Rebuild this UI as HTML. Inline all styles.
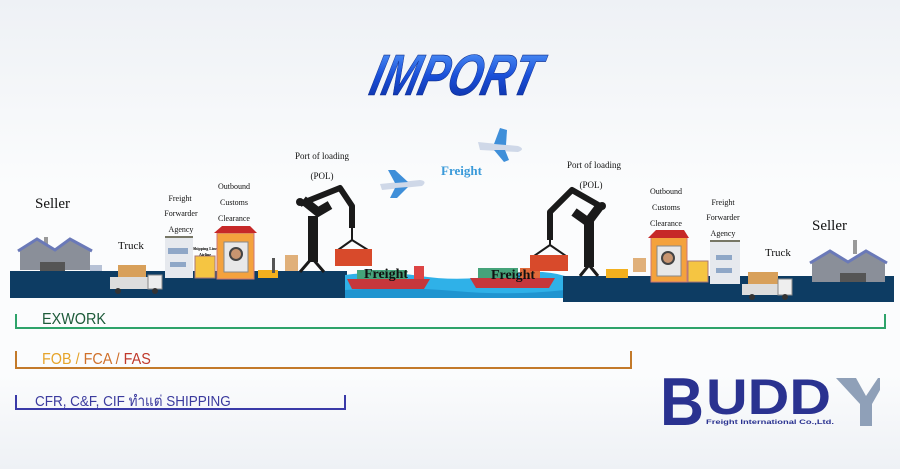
<!DOCTYPE html>
<html><head><meta charset="utf-8"><style>
html,body{margin:0;padding:0;width:900px;height:469px;overflow:hidden}
body{background:linear-gradient(#eef1f5,#fbfcfd 40%,#fbfcfd 80%,#eef1f5)}
svg{display:block}
.s{font-family:"Liberation Serif",serif}
</style></head><body>
<svg width="900" height="469" viewBox="0 0 900 469" xmlns="http://www.w3.org/2000/svg">
<defs>
<linearGradient id="ig" x1="0" y1="0" x2="0" y2="1"><stop offset="0" stop-color="#5aa0ff"/><stop offset="0.5" stop-color="#1a4fd8"/><stop offset="1" stop-color="#0a2a9a"/></linearGradient>
</defs>
<!-- IMPORT -->
<text x="453" y="95" text-anchor="middle" font-family="Liberation Sans,sans-serif" font-weight="bold" font-style="italic" font-size="58" fill="url(#ig)" stroke="#0b2a8a" stroke-width="0.6" textLength="168" lengthAdjust="spacingAndGlyphs" transform="skewX(-14) translate(22,0)">IMPORT</text>

<!-- ground -->
<rect x="10" y="271" width="337" height="27" fill="#0d3c63"/>
<path d="M345 275 Q380 270 420 276 T500 275 T565 276 L565 298 L345 298 Z" fill="#2fb1e8"/>
<path d="M345 290 Q400 286 455 291 T565 290 L565 298 L345 298Z" fill="#1f94d0"/>
<rect x="563" y="276" width="331" height="26" fill="#0d3c63"/>

<!-- left factory -->
<rect x="44" y="237" width="4" height="10" fill="#999"/>
<path d="M20 270 L20 250 L37 240 L55 250 L70 240 L90 250 L90 270Z" fill="#8a8f99"/>
<path d="M18 251 L37 239 L55 250 L70 239 L92 251" stroke="#6a79b8" stroke-width="3" fill="none"/>
<rect x="40" y="262" width="25" height="9" fill="#555"/>
<rect x="90" y="265" width="12" height="6" fill="#b7c2d6"/>
<!-- left truck -->
<rect x="110" y="277" width="40" height="12" fill="#ddd"/><rect x="118" y="265" width="28" height="12" fill="#d8a05a"/>
<rect x="148" y="275" width="14" height="14" fill="#eee" stroke="#888"/>
<circle cx="118" cy="291" r="3" fill="#333"/><circle cx="155" cy="291" r="3" fill="#333"/>
<!-- FFA building -->
<rect x="165" y="238" width="28" height="40" fill="#e6e9ee"/><rect x="168" y="248" width="20" height="6" fill="#8fa7c7"/><rect x="170" y="262" width="16" height="5" fill="#8fa7c7"/>
<rect x="165" y="236" width="28" height="2" fill="#776"/>
<rect x="195" y="256" width="20" height="22" fill="#f5c542" stroke="#a77" stroke-width="1"/>
<text x="205" y="250" font-size="4" text-anchor="middle" class="s" font-weight="bold">Shipping Line</text>
<text x="205" y="256" font-size="4" text-anchor="middle" class="s" font-weight="bold">Airline</text>
<!-- customs -->
<rect x="217" y="233" width="37" height="46" fill="#f4a23d" stroke="#c77" stroke-width="1"/>
<path d="M214 233 L222 226 L250 226 L257 233Z" fill="#c62828"/>
<rect x="224" y="242" width="24" height="30" fill="#e8e8e8" stroke="#888"/>
<circle cx="236" cy="254" r="6" fill="#c89570" stroke="#444" stroke-width="2"/>
<!-- forklift+boxes -->
<rect x="258" y="270" width="20" height="8" fill="#f2b01e"/><rect x="272" y="258" width="3" height="15" fill="#555"/>
<rect x="285" y="255" width="13" height="16" fill="#e0b07a"/>
<!-- left crane -->
<path d="M300 272 L312 258 L324 272" stroke="#1a1a1a" stroke-width="3" fill="none"/>
<rect x="308" y="216" width="10" height="46" fill="#1a1a1a"/>
<path d="M300 204 L340 188 L352 206 L352 228" stroke="#1a1a1a" stroke-width="6" fill="none" stroke-linejoin="round"/>
<path d="M303 200 L318 212 L330 205" stroke="#1a1a1a" stroke-width="9" fill="none"/>
<circle cx="300" cy="202" r="4" fill="#1a1a1a"/>
<path d="M352 228 L352 240 M352 240 L338 250 M352 240 L368 250" stroke="#1a1a1a" stroke-width="2" fill="none"/>
<rect x="335" y="249" width="37" height="17" fill="#d84a2b"/>
<!-- left ship -->
<path d="M347 279 L430 279 L424 289 L352 289Z" fill="#c6373c"/>
<rect x="357" y="270" width="50" height="9" fill="#45a37a"/><rect x="414" y="266" width="10" height="13" fill="#d44"/>
<text x="386" y="278" text-anchor="middle" class="s" font-weight="bold" font-size="14" fill="#111">Freight</text>
<!-- right ship -->
<path d="M470 278 L555 278 L549 288 L476 288Z" fill="#c6373c"/>
<rect x="478" y="268" width="40" height="10" fill="#45a37a"/><rect x="520" y="268" width="20" height="10" fill="#e06a3a"/>
<text x="513" y="279" text-anchor="middle" class="s" font-weight="bold" font-size="14" fill="#111">Freight</text>
<!-- right crane -->
<path d="M580 276 L589 265 L598 276" stroke="#1a1a1a" stroke-width="3" fill="none"/>
<rect x="584" y="220" width="10" height="47" fill="#1a1a1a"/>
<path d="M600 206 L572 190 L550 212 L550 240" stroke="#1a1a1a" stroke-width="6" fill="none" stroke-linejoin="round"/>
<path d="M600 206 L588 222 L574 212" stroke="#1a1a1a" stroke-width="9" fill="none"/>
<circle cx="602" cy="206" r="4" fill="#1a1a1a"/>
<path d="M550 240 L550 245 M550 245 L534 256 M550 245 L566 256" stroke="#1a1a1a" stroke-width="2" fill="none"/>
<rect x="530" y="255" width="38" height="16" fill="#d84a2b"/>
<!-- right forklift/customs -->
<rect x="606" y="269" width="22" height="9" fill="#f2b01e"/><rect x="633" y="258" width="13" height="14" fill="#e0b07a"/>
<rect x="651" y="237" width="36" height="45" fill="#f4a23d" stroke="#c77"/>
<path d="M648 238 L656 230 L684 230 L689 238Z" fill="#c62828"/>
<rect x="657" y="246" width="24" height="30" fill="#e8e8e8" stroke="#888"/>
<circle cx="668" cy="258" r="6" fill="#c89570" stroke="#444" stroke-width="2"/>
<rect x="688" y="261" width="20" height="21" fill="#f5c542" stroke="#a77"/>
<rect x="710" y="242" width="30" height="42" fill="#e6e9ee"/><rect x="710" y="240" width="30" height="2" fill="#776"/>
<rect x="716" y="255" width="16" height="5" fill="#8fa7c7"/><rect x="716" y="268" width="16" height="5" fill="#8fa7c7"/>
<!-- right truck -->
<rect x="742" y="284" width="36" height="11" fill="#ddd"/><rect x="748" y="272" width="30" height="12" fill="#d8a05a"/>
<rect x="778" y="279" width="14" height="16" fill="#eee" stroke="#888"/>
<circle cx="752" cy="297" r="3" fill="#333"/><circle cx="785" cy="297" r="3" fill="#333"/>
<!-- right factory -->
<rect x="853" y="240" width="4" height="14" fill="#999"/>
<path d="M812 282 L812 262 L830 252 L848 262 L866 252 L885 262 L885 282Z" fill="#8a8f99"/>
<path d="M810 263 L830 251 L848 262 L866 251 L887 263" stroke="#6a79b8" stroke-width="3" fill="none"/>
<rect x="840" y="273" width="26" height="9" fill="#555"/>
<!-- planes -->
<g fill="#3f8fd9"><path d="M380 184 L420 180 Q428 181 422 186 L382 190Z" fill="#cfd8e8"/><path d="M395 183 L388 170 L395 170 L408 182Z"/><path d="M395 188 L390 198 L397 198 L408 187Z"/></g>
<g fill="#3f8fd9"><path d="M478 142 L518 146 Q526 149 518 152 L480 150Z" fill="#cfd8e8"/><path d="M494 144 L500 128 L507 130 L506 145Z"/><path d="M494 150 L504 162 L509 160 L505 150Z"/></g>

<!-- labels -->
<g class="s" fill="#111">
<text x="35" y="208" font-size="15">Seller</text>
<text x="118" y="249" font-size="11">Truck</text>
<g font-size="8" text-anchor="middle"><text x="180" y="201">Freight</text><text x="181" y="216">Forwarder</text><text x="181" y="232">Agency</text>
<text x="234" y="189">Outbound</text><text x="234" y="205">Customs</text><text x="234" y="221">Clearance</text>
<text x="666" y="194">Outbound</text><text x="666" y="210">Customs</text><text x="666" y="226">Clearance</text>
<text x="723" y="205">Freight</text><text x="723" y="220">Forwarder</text><text x="723" y="236">Agency</text></g>
<g font-size="9" text-anchor="middle"><text x="322" y="159">Port of loading</text><text x="322" y="179">(POL)</text>
<text x="594" y="168">Port of loading</text><text x="591" y="188">(POL)</text></g>
<text x="765" y="256" font-size="11">Truck</text>
<text x="812" y="230" font-size="15">Seller</text>
</g>
<text x="441" y="175" class="s" font-size="13" font-weight="bold" fill="#3a9ad9">Freight</text>

<!-- bars -->
<path d="M16 314 V328 H885 V314" stroke="#2ea36a" stroke-width="2" fill="none"/>
<text x="42" y="324" font-family="Liberation Sans,sans-serif" font-size="16" fill="#1e5b3a" transform="translate(42 0) scale(0.9 1) translate(-42 0)">EXWORK</text>
<path d="M16 351 V368 H631 V351" stroke="#c37a2a" stroke-width="2" fill="none"/>
<text x="42" y="364" font-family="Liberation Sans,sans-serif" font-size="16" transform="translate(42 0) scale(0.9 1) translate(-42 0)"><tspan fill="#e6a42a">FOB / </tspan><tspan fill="#d0702a">FCA / </tspan><tspan fill="#c0392b">FAS</tspan></text>
<path d="M16 395 V409 H345 V395" stroke="#3a3aa8" stroke-width="2" fill="none"/>
<text x="35" y="406" font-family="Liberation Sans,'Noto Sans CJK SC',sans-serif" font-size="15" fill="#3b3b9e" transform="translate(35 0) scale(0.9 1) translate(-35 0)">CFR, C&amp;F, CIF ทำแต่ SHIPPING</text>

<!-- logo -->
<text x="660" y="425" font-family="Liberation Sans,sans-serif" font-weight="bold" font-size="68" fill="#2a3290" textLength="44" lengthAdjust="spacingAndGlyphs">B</text>
<text x="706" y="414" font-family="Liberation Sans,sans-serif" font-weight="bold" font-size="50" fill="#2a3290" textLength="125" lengthAdjust="spacingAndGlyphs">UDD</text>
<path d="M836 378 L856 378 L866 396 L878 378 L880 378 L880 390 L872 404 L872 426 L860 426 L860 404Z" fill="#8fa0b8"/>
<text x="706" y="424" font-family="Liberation Sans,sans-serif" font-weight="bold" font-size="6.5" fill="#2a3290" textLength="128" lengthAdjust="spacingAndGlyphs">Freight International Co.,Ltd.</text>
</svg>
</body></html>
